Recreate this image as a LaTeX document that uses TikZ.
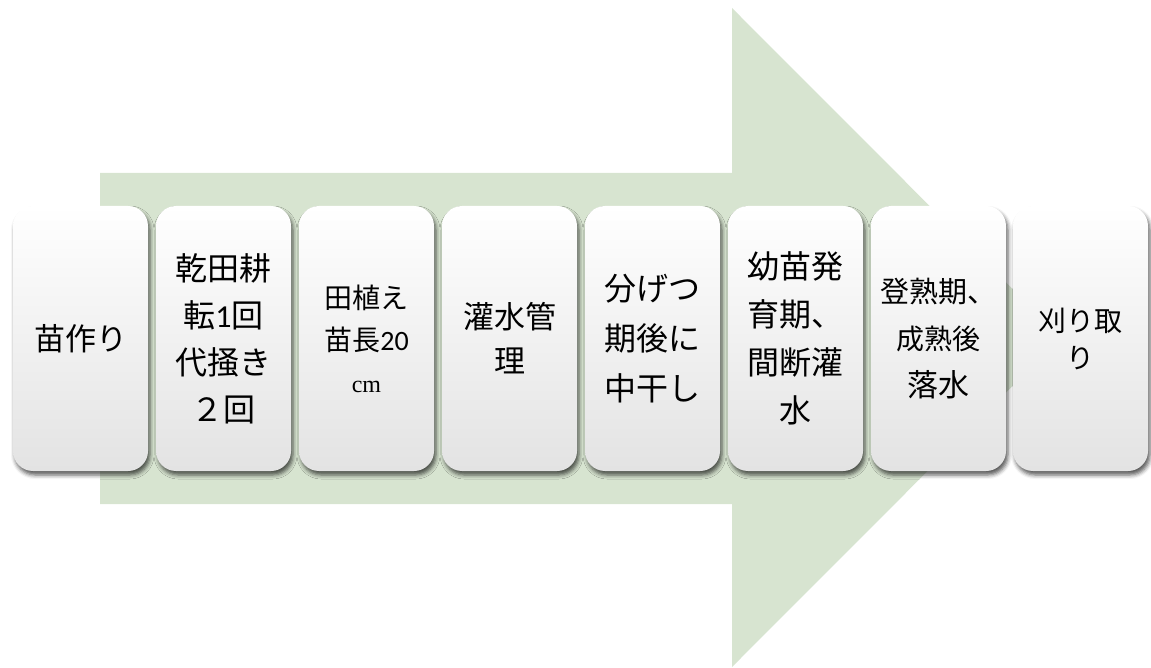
\documentclass[tikz,border=0pt]{standalone}
\usepackage{fontspec}
\newfontfamily\jp{Noto Sans CJK JP}
\newfontfamily\lat{Carlito}
\newfontfamily\ser{Liberation Serif}
\usetikzlibrary{shadows.blur}
\definecolor{arrowgreen}{RGB}{215,228,208}
\newcommand\fs[2]{\fontsize{#1}{#2}\selectfont}
\begin{document}
\begin{tikzpicture}[x=1pt,y=-1pt,
  stepbox/.style={rounded corners=20pt, minimum width=135pt, minimum height=265pt,
    top color=white, middle color=white, bottom color=black!11,
    blur shadow={shadow xshift=2pt, shadow yshift=-4pt, shadow blur radius=4pt, shadow opacity=65},
    align=center, inner sep=0pt}]
\useasboundingbox (0,0) rectangle (1151,668);
\fill[arrowgreen] (100,173) -- (732,173) -- (732,8) -- (1061,337.5) -- (732,667) -- (732,504) -- (100,504) -- cycle;
\node[stepbox, font=\jp\fs{31}{47}] (s1) at (80.5,338.5) {苗作り};
\node[stepbox, font=\jp\fs{32}{47}] (s2) at (223.5,338.5) {乾田耕\\転{\lat 1}回\\代掻き\\２回};
\node[stepbox, font=\jp\fs{28}{42}] (s3) at (366.5,338.5) {田植え\\苗長{\lat 20}\\{\ser\fs{24}{42}cm}};
\node[stepbox, font=\jp\fs{31}{44}] (s4) at (509.5,338.5) {灌水管\\理};
\node[stepbox, font=\jp\fs{32}{50}] (s5) at (652.5,338.5) {分げつ\\期後に\\中干し};
\node[stepbox, font=\jp\fs{32}{48}] (s6) at (795.5,338.5) {幼苗発\\育期、\\間断灌\\水};
\node[stepbox, font=\jp\fs{29}{47}] (s7) at (938.5,338.5) {登熟期、\\{\fs{28}{47}成熟後}\\{\fs{31}{47}落水}};
\node[stepbox, font=\jp\fs{28}{37}] (s8) at (1080.5,338.5) {刈り取\\り};
\end{tikzpicture}
\end{document}
